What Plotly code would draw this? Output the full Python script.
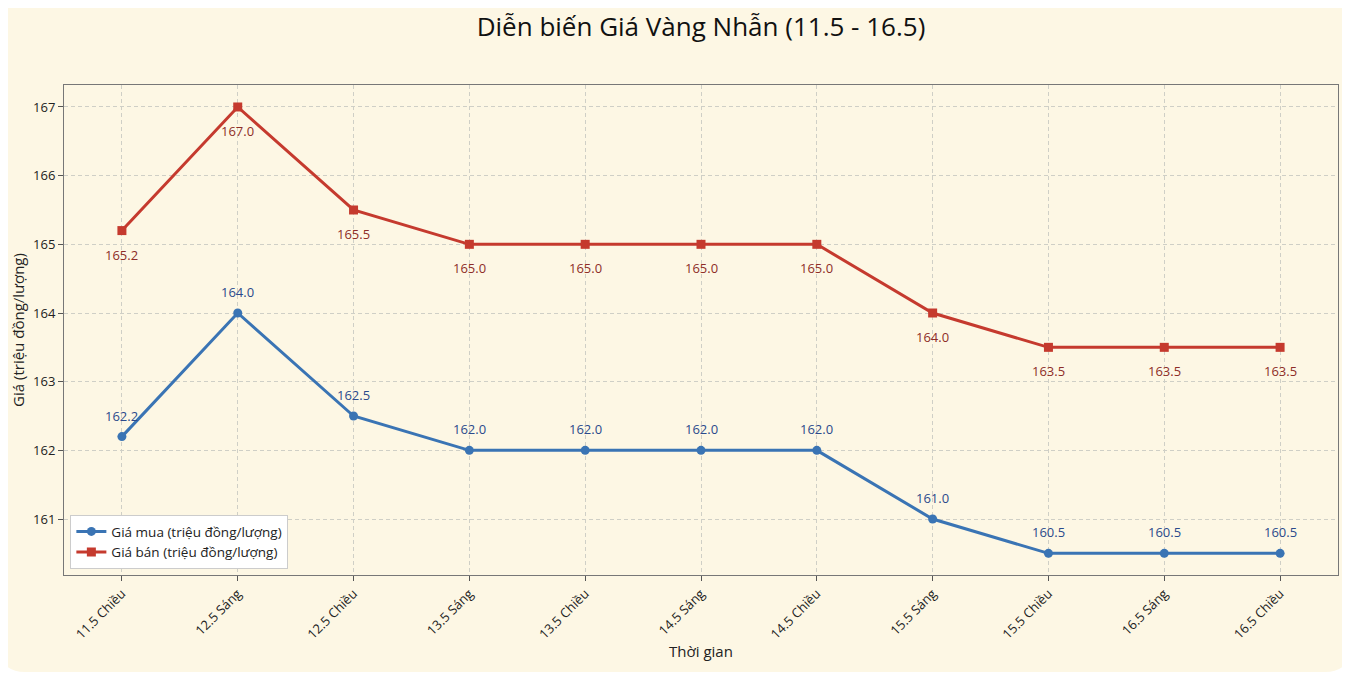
import plotly.graph_objects as go

# Dữ liệu giá vàng nhẫn
thoi_gian = ['11.5 Chiều', '12.5 Sáng', '12.5 Chiều', '13.5 Sáng', '13.5 Chiều',
             '14.5 Sáng', '14.5 Chiều', '15.5 Sáng', '15.5 Chiều', '16.5 Sáng', '16.5 Chiều']
gia_mua = [162.2, 164.0, 162.5, 162.0, 162.0, 162.0, 162.0, 161.0, 160.5, 160.5, 160.5]
gia_ban = [165.2, 167.0, 165.5, 165.0, 165.0, 165.0, 165.0, 164.0, 163.5, 163.5, 163.5]

FONT = 'Open Sans'
CREAM = '#fdf7e4'
BLUE = '#3a74b4'
RED = '#c53a2e'

fig = go.Figure()

fig.add_trace(go.Scatter(
    x=list(range(len(thoi_gian))), y=gia_mua,
    mode='lines+markers', name='Giá mua (triệu đồng/lượng)',
    line=dict(color=BLUE, width=3),
    marker=dict(symbol='circle', size=9, color=BLUE)
))
fig.add_trace(go.Scatter(
    x=list(range(len(thoi_gian))), y=gia_ban,
    mode='lines+markers', name='Giá bán (triệu đồng/lượng)',
    line=dict(color=RED, width=3),
    marker=dict(symbol='square', size=9, color=RED)
))

# Nhãn giá trị
annotations = []
for i, v in enumerate(gia_mua):
    annotations.append(dict(x=i, y=v, text=f'{v:.1f}', showarrow=False, yshift=21,
                            font=dict(family=FONT, size=13, color='#2b4a8c')))
for i, v in enumerate(gia_ban):
    annotations.append(dict(x=i, y=v, text=f'{v:.1f}', showarrow=False, yshift=-24,
                            font=dict(family=FONT, size=13, color='#8e2d28')))

# Nền thẻ bo góc
x0, x1, y0, y1 = -0.0502, 1.0094, -0.198, 1.173
rx, ry = 0.0196, 0.051
card = (f'M {x0 + rx},{y0} L {x1 - rx},{y0} Q {x1},{y0} {x1},{y0 + ry} '
        f'L {x1},{y1 - ry} Q {x1},{y1} {x1 - rx},{y1} '
        f'L {x0 + rx},{y1} Q {x0},{y1} {x0},{y1 - ry} '
        f'L {x0},{y0 + ry} Q {x0},{y0} {x0 + rx},{y0} Z')

fig.update_layout(
    width=1342, height=668,
    margin=dict(l=56, r=12, t=77, b=101, autoexpand=False),
    paper_bgcolor='white', plot_bgcolor=CREAM,
    font=dict(family=FONT, size=13, color='#222222'),
    title=dict(text='Diễn biến Giá Vàng Nhẫn (11.5 - 16.5)', xref='paper', x=0.5, xanchor='center',
               y=0.972, yanchor='middle', font=dict(family=FONT, size=26, color='#111111')),
    shapes=[dict(type='path', path=card, xref='paper', yref='paper',
                 fillcolor=CREAM, line=dict(width=0), layer='below')],
    annotations=annotations,
    showlegend=True,
    legend=dict(x=0.005, y=0.012, xanchor='left', yanchor='bottom',
                bgcolor='white', bordercolor='#cccccc', borderwidth=1,
                font=dict(family=FONT, size=13.5, color='#222222'),
                tracegroupgap=2),
    xaxis=dict(
        tickmode='array', tickvals=list(range(len(thoi_gian))), ticktext=thoi_gian,
        range=[-0.5, 10.5], tickangle=-45, ticks='outside', ticklen=5,
        tickcolor='#555555', showgrid=True, gridcolor='#cfcfc6', griddash='4px,3px',
        showline=True, linecolor='#777777', mirror=True, zeroline=False,
        title=dict(text='Thời gian', font=dict(size=15), standoff=4),
        tickfont=dict(size=13)
    ),
    yaxis=dict(
        range=[160.185, 167.32], tickmode='array', tickvals=[161, 162, 163, 164, 165, 166, 167],
        ticks='outside', ticklen=5, tickcolor='#555555',
        showgrid=True, gridcolor='#cfcfc6', griddash='4px,3px',
        showline=True, linecolor='#777777', mirror=True, zeroline=False,
        title=dict(text='Giá (triệu đồng/lượng)', font=dict(size=15), standoff=10),
        tickfont=dict(size=13)
    ),
)

fig.write_html('out.html')
